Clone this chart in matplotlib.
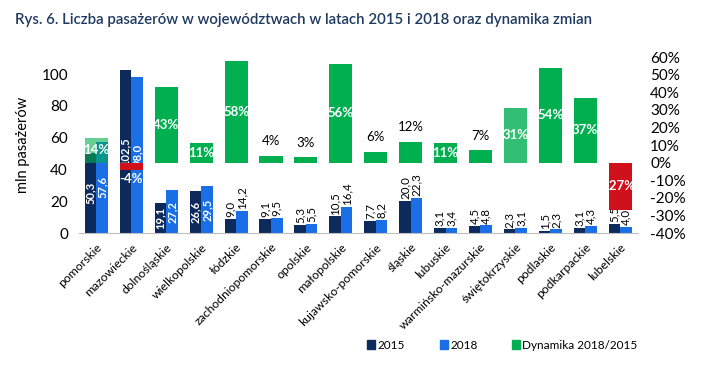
import numpy as np
import matplotlib.pyplot as plt
from matplotlib.patches import Patch

plt.rcParams['font.family'] = ['Lato', 'DejaVu Sans']

# data
regions = ['pomorskie', 'mazowieckie', 'dolnośląskie', 'wielkopolskie', 'łódzkie',
           'zachodniopomorskie', 'opolskie', 'małopolskie', 'kujawsko-pomorskie',
           'śląskie', 'lubuskie', 'warmińsko-mazurskie', 'świętokrzyskie',
           'podlaskie', 'podkarpackie', 'lubelskie']
pas_2015 = [50.3, 102.5, 19.1, 26.6, 9.0, 9.1, 5.3, 10.5, 7.7, 20.0, 3.1, 4.5, 2.3, 1.5, 3.1, 5.5]
pas_2018 = [57.6, 98.0, 27.2, 29.5, 14.2, 9.5, 5.5, 16.4, 8.2, 22.3, 3.4, 4.8, 3.1, 2.3, 4.3, 4.0]
dynamika = [0.14, -0.04, 0.43, 0.11, 0.58, 0.04, 0.03, 0.56, 0.06, 0.12, 0.11, 0.07, 0.31,
            0.54, 0.37, -0.27]

# which labels sit inside the bars (white, bold)
val_inside = [True, True, True, True] + [False] * 12
dyn_outside = ['zachodniopomorskie', 'opolskie', 'kujawsko-pomorskie', 'śląskie',
               'warmińsko-mazurskie']

c15 = '#0d2a5c'
c18 = '#1a6fe6'
green = '#00b050'
red = '#d0111c'

fig = plt.figure(figsize=(7.1, 3.76), dpi=100)
ax = fig.add_axes([0.1113, 0.380, 0.7866, 0.468])
ax2 = ax.twinx()

x = np.arange(len(regions))
w = 0.33
ax.bar(x - w / 2, pas_2015, w, color=c15)
ax.bar(x + w / 2, pas_2018, w, color=c18)

ax.set_ylim(0, 110.7)
ax.set_xlim(-0.5, len(regions) - 0.5)
ax.set_yticks(range(0, 101, 20))
ax.set_ylabel('mln pasażerów', fontsize=10.5, labelpad=8)
ax.set_xticks(x)
ax.set_xticklabels(regions, rotation=45, ha='right', rotation_mode='anchor', fontsize=8.8)
ax.tick_params(axis='y', length=0, labelsize=11, pad=8)
ax.tick_params(axis='x', length=0, pad=6)
for s in ['top', 'right', 'left']:
    ax.spines[s].set_visible(False)
ax.spines['bottom'].set_color('#bfbfbf')

# value labels
for i in range(len(regions)):
    for xi, v in [(x[i] - w / 2, pas_2015[i]), (x[i] + w / 2, pas_2018[i])]:
        txt = f'{v:.1f}'.replace('.', ',')
        if val_inside[i]:
            ax.text(xi, v / 2, txt, rotation=90, ha='center', va='center',
                    color='white', fontsize=8, fontweight='bold', zorder=5)
        else:
            ax.text(xi, v + 1.2, txt, rotation=90, ha='center', va='bottom',
                    color='black', fontsize=8.3, zorder=5)

# dynamics on the right axis
dcols = [red if d < 0 else green for d in dynamika]
alphas = [1.0] * len(regions)
alphas[regions.index('pomorskie')] = 0.6
alphas[regions.index('świętokrzyskie')] = 0.8
for i, d in enumerate(dynamika):
    ax2.bar(x[i], d, 0.66, color=dcols[i], alpha=alphas[i])
ax2.set_ylim(-0.4, 0.6)
ax2.set_yticks(np.arange(-0.4, 0.61, 0.1))
ax2.set_yticklabels([f'{t:.0f}%' for t in np.arange(-40, 61, 10)])
ax2.tick_params(axis='y', length=0, labelsize=11, pad=9)
for s in ax2.spines.values():
    s.set_visible(False)

for i, d in enumerate(dynamika):
    txt = f'{d * 100:.0f}%'
    if regions[i] in dyn_outside:
        ax2.text(x[i], d + 0.05, txt, ha='center', va='bottom', fontsize=9.5, color='black')
    elif d < 0 and abs(d) < 0.1:
        ax2.text(x[i], d - 0.02, txt, ha='center', va='top', fontsize=9.5,
                 color='white', fontweight='bold')
    else:
        ax2.text(x[i], d / 2, txt, ha='center', va='center', fontsize=9.5,
                 color='white', fontweight='bold')

fig.text(0.021, 0.947, 'Rys. 6. Liczba pasażerów w województwach w latach 2015 i 2018 oraz dynamika zmian',
         fontsize=10.8, color='#1f3a60', fontweight='semibold', va='center')

# legend items placed one by one, as in the original
leg_items = [('2015', c15, 0.517), ('2018', c18, 0.620), ('Dynamika 2018/2015', green, 0.721)]
for lab, col, lx in leg_items:
    fig.legend([Patch(color=col)], [lab], loc='center left', bbox_to_anchor=(lx, 0.082),
               frameon=False, fontsize=8.5, handlelength=0.7, handleheight=0.7,
               handletextpad=0.15, borderpad=0, borderaxespad=0)

fig.savefig('out.png', dpi=100)
